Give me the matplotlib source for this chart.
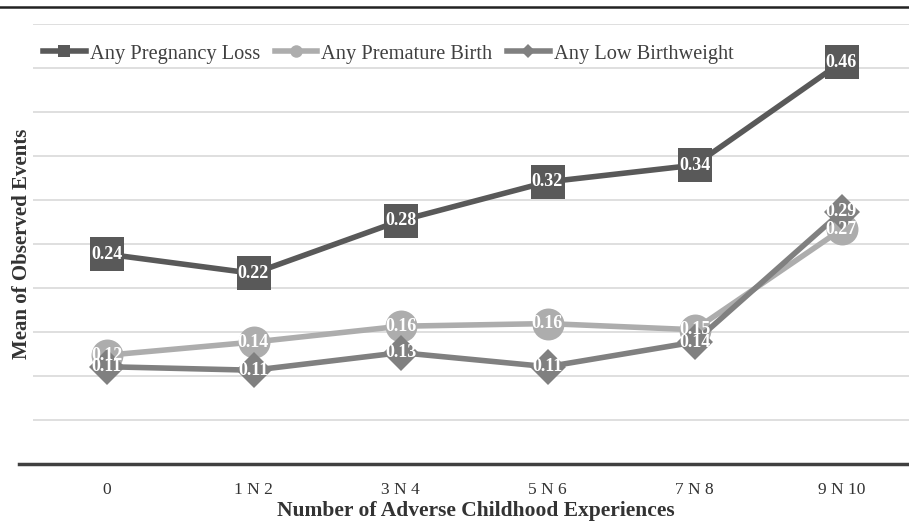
import matplotlib
matplotlib.use("Agg")
import matplotlib.pyplot as plt
from matplotlib.lines import Line2D

plt.rcParams['font.family'] = ['Liberation Serif', 'DejaVu Serif']

# Data (positions, labels show 2 decimals)
categories = ['0', '1 N 2', '3 N 4', '5 N 6', '7 N 8', '9 N 10']
pregnancy_loss = [0.238, 0.216, 0.276, 0.320, 0.339, 0.456]
premature_birth = [0.123, 0.138, 0.156, 0.159, 0.152, 0.266]
low_birthweight = [0.110, 0.106, 0.126, 0.110, 0.138, 0.286]
y_grid = [0.05, 0.10, 0.15, 0.20, 0.25, 0.30, 0.35, 0.40, 0.45, 0.50]

series = [
    ("Any Pregnancy Loss", pregnancy_loss, '#595959', 's', 24),
    ("Any Premature Birth", premature_birth, '#ADADAD', 'o', 23),
    ("Any Low Birthweight", low_birthweight, '#808080', 'D', 18),
]

W, H = 909, 523
fig = plt.figure(figsize=(W / 100, H / 100), dpi=100)
left, right, bottom, top = 33, 915, 463.5, 23.5
ax = fig.add_axes([left / W, (H - bottom) / H, (right - left) / W, (bottom - top) / H])

x = list(range(len(categories)))

for yv in y_grid:
    ax.axhline(yv, color='#D9D9D9', lw=1.2, zorder=0)

handles = []
for name, vals, color, marker, ms in series:
    ax.plot(x, vals, color=color, lw=4, marker=marker, markersize=ms,
            markeredgewidth=0, zorder=3)
    for xi, v in zip(x, vals):
        ax.text(xi, v, f"{v:.2f}", ha='center', va='center', color='white',
                fontsize=13, fontweight='bold', zorder=5)
    handles.append(Line2D([], [], color=color, lw=4, marker=marker,
                          markersize=9 if marker != 'D' else 7, markeredgewidth=0))

ax.set_xlim(-0.5, 5.5)
ax.set_ylim(0, 0.5)
ax.set_xticks(x)
ax.set_xticklabels(categories, fontsize=12.5, color='#333333')
ax.tick_params(axis='x', length=0, pad=13)
ax.set_yticks([])
for s in ax.spines.values():
    s.set_visible(False)

# bottom axis line and top border
fig.add_artist(Line2D([19 / W, 1], [(H - bottom) / H] * 2, color='#404040', lw=2.5))
fig.add_artist(Line2D([0, 1], [(H - 6.5) / H] * 2, color='#222222', lw=1.8))

fig.text(476 / W, (H - 511) / H, "Number of Adverse Childhood Experiences",
         ha='center', va='center', fontsize=15.5, fontweight='bold', color='#333333')
fig.text(22 / W, (H - 244) / H, "Mean of Observed Events", rotation=90,
         ha='center', va='center', fontsize=15, fontweight='bold', color='#333333')

fig.legend(handles=handles, labels=[s[0] for s in series],
           loc='center left', bbox_to_anchor=(43 / W, (H - 54) / H), ncol=3,
           frameon=False, fontsize=14.7, handlelength=2.1, handletextpad=0.2,
           columnspacing=0.7, borderpad=0, borderaxespad=0, labelcolor='#404040')

fig.savefig('out.png', dpi=100, facecolor='white')
